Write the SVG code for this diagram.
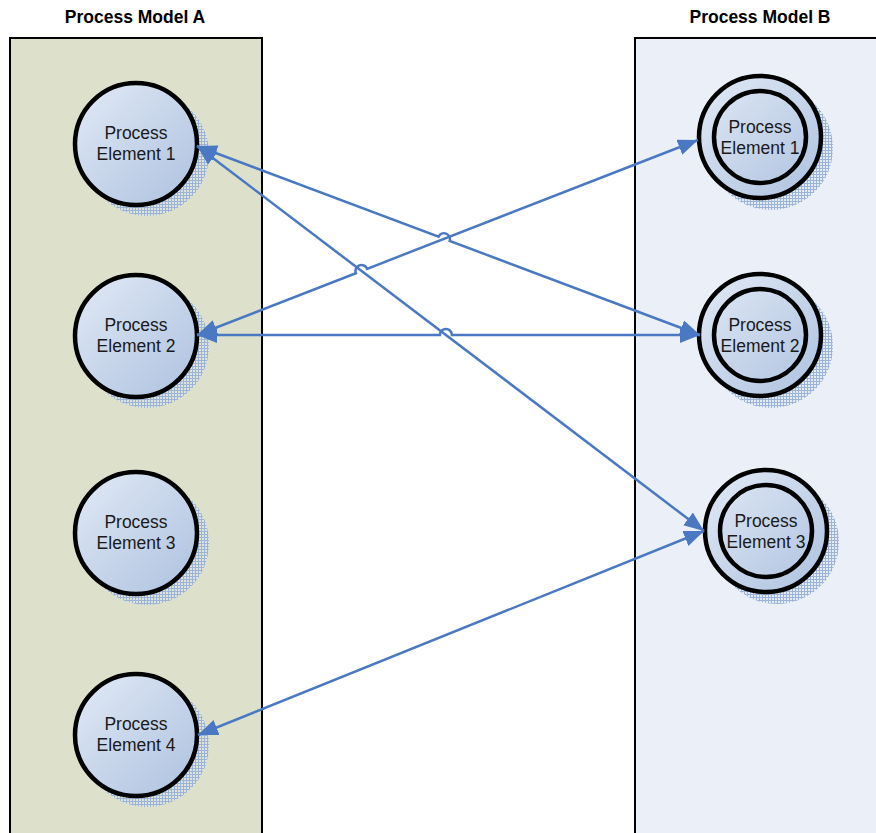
<svg xmlns="http://www.w3.org/2000/svg" width="876" height="833" viewBox="0 0 876 833">
  <defs>
    <linearGradient id="nodeFill" x1="0" y1="0" x2="1" y2="1">
      <stop offset="0" stop-color="#e2eaf6"/>
      <stop offset="1" stop-color="#adc1df"/>
    </linearGradient>
    <pattern id="hatch" width="3" height="3" patternUnits="userSpaceOnUse">
      <rect width="3" height="3" fill="#dfe6ee" fill-opacity="0.5"/>
      <path d="M0 0.5H3M0.5 0V3" stroke="#9bb3d6" stroke-width="1"/>
    </pattern>
    <marker id="arrow" markerUnits="userSpaceOnUse" markerWidth="22" markerHeight="18" refX="20" refY="8" orient="auto-start-reverse">
      <path d="M0 0L20 8L0 16Z" fill="#4a78c2"/>
    </marker>
    <style>
      .pane { stroke: #000; stroke-width: 2; }
      .title { font-family: "Liberation Sans", Arial, sans-serif; font-weight: bold; font-size: 17.5px; text-anchor: middle; fill: #000; }
      .label { font-family: "Liberation Sans", Arial, sans-serif; font-size: 17.5px; text-anchor: middle; fill: #1a1a1a; }
      .shadow { fill: url(#hatch); }
      .ring { fill: url(#nodeFill); stroke: #000; stroke-width: 4.5; }
      .inner { fill: none; stroke: #000; stroke-width: 4.5; }
      .link { fill: none; stroke: #4a78c2; stroke-width: 2.5; marker-start: url(#arrow); marker-end: url(#arrow); }
    </style>
  </defs>

  <rect width="876" height="833" fill="#fff"/>

  <!-- swimlanes -->
  <g id="modelA">
    <rect class="pane" x="10" y="38" width="252" height="800" fill="#dde1cb"/>
    <text class="title" x="135" y="23">Process Model A</text>
  </g>
  <g id="modelB">
    <rect class="pane" x="635" y="38" width="250" height="800" fill="#ebf0f8"/>
    <text class="title" x="760" y="23">Process Model B</text>
  </g>

  <!-- Model A elements -->
  <g id="a1">
    <circle class="shadow" cx="147" cy="154" r="62"/>
    <circle class="ring" cx="136" cy="144" r="61"/>
    <text class="label" x="136" y="139">Process</text>
    <text class="label" x="136" y="160">Element 1</text>
  </g>
  <g id="a2">
    <circle class="shadow" cx="147" cy="346" r="62"/>
    <circle class="ring" cx="136" cy="336" r="61"/>
    <text class="label" x="136" y="331">Process</text>
    <text class="label" x="136" y="352">Element 2</text>
  </g>
  <g id="a3">
    <circle class="shadow" cx="147" cy="543" r="62"/>
    <circle class="ring" cx="136" cy="533" r="61"/>
    <text class="label" x="136" y="528">Process</text>
    <text class="label" x="136" y="549">Element 3</text>
  </g>
  <g id="a4">
    <circle class="shadow" cx="147" cy="745" r="62"/>
    <circle class="ring" cx="136" cy="735" r="61"/>
    <text class="label" x="136" y="730">Process</text>
    <text class="label" x="136" y="751">Element 4</text>
  </g>

  <!-- Model B elements -->
  <g id="b1">
    <circle class="shadow" cx="771" cy="148" r="62"/>
    <circle class="ring" cx="760" cy="137" r="61"/>
    <circle class="inner" cx="760" cy="137" r="46"/>
    <text class="label" x="760" y="133">Process</text>
    <text class="label" x="760" y="154">Element 1</text>
  </g>
  <g id="b2">
    <circle class="shadow" cx="771" cy="346" r="62"/>
    <circle class="ring" cx="760" cy="335" r="61"/>
    <circle class="inner" cx="760" cy="335" r="46"/>
    <text class="label" x="760" y="331">Process</text>
    <text class="label" x="760" y="352">Element 2</text>
  </g>
  <g id="b3">
    <circle class="shadow" cx="777" cy="542" r="62"/>
    <circle class="ring" cx="766" cy="531" r="61"/>
    <circle class="inner" cx="766" cy="531" r="46"/>
    <text class="label" x="766" y="527">Process</text>
    <text class="label" x="766" y="548">Element 3</text>
  </g>

  <!-- connectors, with line jumps at crossings -->
  <g id="connectors">
    <path class="link" d="M197 146L438.5 236.7A6 6 0 0 1 449.7 240.9L700 335"/>
    <path class="link" d="M197 335L355.9 273.2A6 6 0 0 1 367.1 268.8L698 140"/>
    <path class="link" d="M197 146L704 531"/>
    <path class="link" d="M197 335L439.9 335A6 6 0 0 1 451.9 335L700 335"/>
    <path class="link" d="M198 735L704 531"/>
  </g>
</svg>
